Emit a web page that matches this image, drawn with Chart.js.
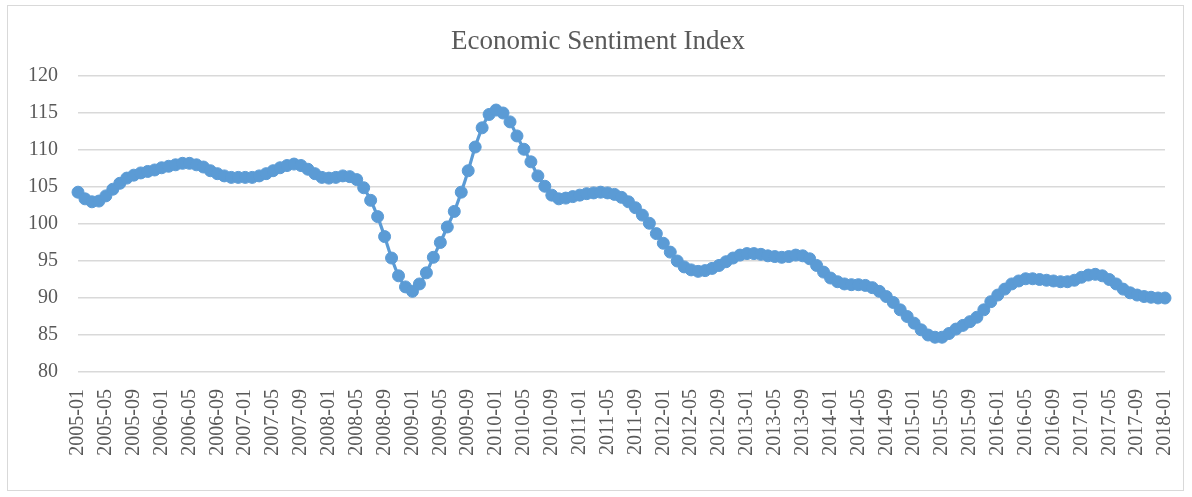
<!DOCTYPE html>
<html>
<head>
<meta charset="utf-8">
<script src="https://cdn.jsdelivr.net/npm/chart.js@4"></script>
<style>
  html, body { margin: 0; padding: 0; background: #fff; }
  #wrap { position: relative; width: 1192px; height: 497px; }
  #frame { position: absolute; left: 7px; top: 5px; width: 1177px; height: 486px; border: 1px solid #d9d9d9; box-sizing: border-box; pointer-events: none; }
</style>
</head>
<body>
<div id="wrap">
  <canvas id="chart" width="1192" height="497"></canvas>
  <div id="frame"></div>
</div>
<script>
// monthly index values, one array per year
const esi2005 = [104.3, 103.4, 103.0, 103.1, 103.8, 104.7, 105.5, 106.2, 106.6, 106.9, 107.1, 107.3];
const esi2006 = [107.6, 107.8, 108.0, 108.2, 108.2, 108.0, 107.7, 107.2, 106.8, 106.5, 106.3, 106.3];
const esi2007 = [106.3, 106.3, 106.5, 106.8, 107.2, 107.6, 107.9, 108.1, 107.9, 107.4, 106.8, 106.3];
const esi2008 = [106.2, 106.3, 106.5, 106.4, 106.0, 104.9, 103.2, 101.0, 98.3, 95.4, 93.0, 91.5];
const esi2009 = [90.9, 91.9, 93.4, 95.5, 97.5, 99.6, 101.7, 104.3, 107.2, 110.4, 113.0, 114.8];
const esi2010 = [115.4, 115.0, 113.8, 111.9, 110.1, 108.4, 106.5, 105.1, 103.9, 103.4, 103.5, 103.7];
const esi2011 = [103.9, 104.1, 104.2, 104.3, 104.2, 104.0, 103.6, 103.0, 102.2, 101.2, 100.1, 98.7];
const esi2012 = [97.4, 96.2, 95.0, 94.2, 93.8, 93.6, 93.7, 94.0, 94.4, 94.9, 95.4, 95.8];
const esi2013 = [96.0, 96.0, 95.9, 95.7, 95.6, 95.5, 95.6, 95.8, 95.7, 95.3, 94.4, 93.5];
const esi2014 = [92.7, 92.2, 91.9, 91.8, 91.8, 91.7, 91.4, 90.9, 90.2, 89.4, 88.4, 87.5];
const esi2015 = [86.6, 85.7, 85.0, 84.7, 84.7, 85.2, 85.8, 86.3, 86.8, 87.4, 88.4, 89.5];
const esi2016 = [90.4, 91.2, 91.9, 92.3, 92.6, 92.6, 92.5, 92.4, 92.3, 92.2, 92.2, 92.4];
const esi2017 = [92.8, 93.1, 93.2, 93.0, 92.5, 91.9, 91.2, 90.7, 90.4, 90.2, 90.1, 90.0];
const esi2018 = [90.0];

const years = [2005, 2006, 2007, 2008, 2009, 2010, 2011, 2012, 2013, 2014, 2015, 2016, 2017, 2018];
const yearValues = [esi2005, esi2006, esi2007, esi2008, esi2009, esi2010, esi2011, esi2012, esi2013, esi2014, esi2015, esi2016, esi2017, esi2018];

const yTicks = [80, 85, 90, 95, 100, 105, 110, 115, 120];
const labelEvery = 4; // a label every 4 months
const chartTitle = 'Economic Sentiment Index';

// build month labels like 2005-01
const months = [];
const values = [];
years.forEach((yr, k) => {
  yearValues[k].forEach((v, m) => {
    months.push(yr + '-' + String(m + 1).padStart(2, '0'));
    values.push(v);
  });
});

const gray = '#595959';
const blue = '#5b9bd5';
const serif = "'Liberation Serif', 'Times New Roman', serif";

// title centred on the outer frame, not the canvas
const titlePlugin = {
  id: 'frameTitle',
  afterDraw(chart) {
    const ctx = chart.ctx;
    ctx.save();
    ctx.font = '27px ' + serif;
    ctx.fillStyle = gray;
    ctx.textAlign = 'center';
    ctx.textBaseline = 'middle';
    ctx.fillText(chartTitle, 598, 42);
    ctx.restore();
  }
};

new Chart(document.getElementById('chart'), {
  type: 'line',
  data: {
    labels: months,
    datasets: [{
      label: chartTitle,
      data: values,
      borderColor: blue,
      backgroundColor: blue,
      borderWidth: 3.2,
      pointRadius: 6,
      pointBorderWidth: 1,
      pointBorderColor: blue,
      pointBackgroundColor: blue,
      tension: 0.3
    }]
  },
  plugins: [titlePlugin],
  options: {
    responsive: false,
    animation: false,
    layout: { padding: { top: 76, right: 27, bottom: 0, left: 0 } },
    plugins: {
      legend: { display: false },
      tooltip: { enabled: false },
      title: { display: false }
    },
    scales: {
      x: {
        offset: false,
        grid: { display: false },
        border: { display: false },
        ticks: {
          autoSkip: false,
          maxRotation: 90,
          minRotation: 90,
          padding: 9,
          color: gray,
          font: { family: serif, size: 20 },
          callback: function(v, i) {
            return i % labelEvery === 0 ? months[i] : '';
          }
        },
        afterFit: function(s) {
          s.height = 125;
          s.paddingLeft = 0;
          s.paddingRight = 0;
        }
      },
      y: {
        min: yTicks[0],
        max: yTicks[yTicks.length - 1],
        grid: { color: '#d9d9d9', lineWidth: 1.5, drawTicks: false, tickLength: 3 },
        border: { display: false },
        afterBuildTicks: function(s) {
          s.ticks = yTicks.map(v => ({ value: v }));
        },
        ticks: {
          padding: 20,
          color: gray,
          font: { family: serif, size: 20 }
        },
        afterFit: function(s) { s.width = 78; }
      }
    }
  }
});
</script>
</body>
</html>
